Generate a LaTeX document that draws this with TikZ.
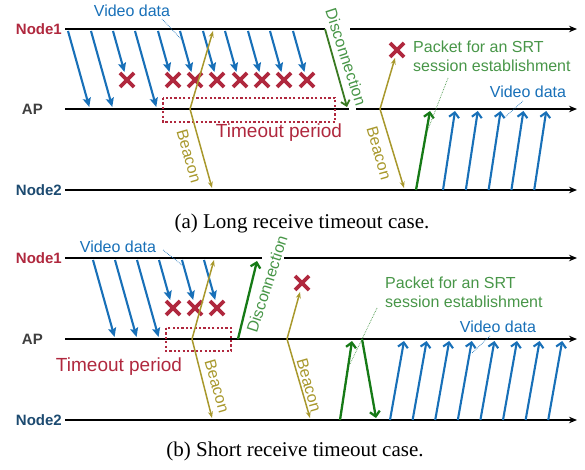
\documentclass[tikz,border=0pt]{standalone}
\usepackage{fontspec}
\setmainfont{Liberation Serif}
\newfontfamily\labfont{Liberation Sans}
\usetikzlibrary{arrows.meta}

\definecolor{vidblue}{RGB}{24,112,184}
\definecolor{lostred}{RGB}{176,40,62}
\definecolor{bcnolive}{RGB}{168,152,44}
\definecolor{discgreen}{RGB}{58,122,34}
\definecolor{srtgreen}{RGB}{22,122,22}
\definecolor{notegreen}{RGB}{72,150,72}
\definecolor{nodeblue}{RGB}{28,74,112}
\definecolor{apgray}{RGB}{62,62,62}

\tikzset{
  tl/.style={line width=1.7pt},
  tlarrow/.style={-{Stealth[length=8pt,width=6.5pt]}},
  nlab/.style={font=\labfont\bfseries\fontsize{15}{17}\selectfont, inner sep=0pt},
  vid/.style={vidblue, line width=2.1pt, -{Stealth[length=9pt,width=8pt,inset=1.5pt]}},
  vidup/.style={vidblue, line width=2.1pt, -{Straight Barb[length=5pt,width=10pt]}},
  srt/.style={srtgreen, line width=2.3pt, -{Straight Barb[length=5pt,width=10pt]}},
  disc/.style={discgreen, line width=1.8pt, -{Straight Barb[length=5pt,width=9pt]}},
  bcn/.style={bcnolive, line width=1.5pt, -{Stealth[length=6.5pt,width=5pt]}},
  labtxt/.style={font=\labfont\fontsize{16}{18}\selectfont, inner sep=0pt},
  vidtxt/.style={labtxt, vidblue},
  bcntxt/.style={labtxt, bcnolive},
  disctxt/.style={labtxt, notegreen},
  srttxt/.style={labtxt, notegreen, anchor=base west},
  tout/.style={lostred, line width=2.2pt, dash pattern=on 2.2pt off 2.2pt},
  touttxt/.style={font=\labfont\fontsize{19}{21}\selectfont, lostred, inner sep=0pt, anchor=base},
  note/.style={line width=0.7pt, densely dotted},
  capt/.style={font=\fontsize{21}{24}\selectfont, inner sep=0pt, anchor=base},
  xmark/.pic={\draw[lostred, line width=3.8pt] (-7,-7) -- (7,7) (-7,7) -- (7,-7);}
}

\begin{document}
\begin{tikzpicture}[x=1pt, y=-1pt]
\useasboundingbox (0,0) rectangle (585,470);

% (a) long receive timeout
\node[nlab, lostred, anchor=east] (n1a) at (62,29) {Node1};
\node[nlab, apgray, anchor=east] (apa) at (43,109) {AP};
\node[nlab, nodeblue, anchor=east] (n2a) at (62,190) {Node2};

\draw[tl] (65,29) -- (325,29);
\draw[tl, tlarrow] (350,29) -- (577,29);
\draw[tl] (65,109) -- (349,109);
\draw[tl, tlarrow] (356,109) -- (577,109);
\draw[tl, tlarrow] (65,190) -- (577,190);

\draw[tout] (163,98) rectangle (335,122);
\node[touttxt] (toa) at (279,138) {Timeout period};

\foreach \s/\e in {68/107, 91/107, 113/72, 135/107, 158/72, 180/72, 203/72, 225/72, 248/72, 270/72, 293/72}
  \draw[vid] (\s,31) -- ({\s+0.28*(\e-31)},\e);
\foreach \x in {127,173,195,217,240,262,284,307}
  \pic at (\x,80) {xmark};

\node[vidtxt, anchor=base] (vda) at (132,17) {Video data};
\draw[note, vidblue] (162,19) -- (182,40);

\coordinate (ba1) at (190,109);
\draw[bcn] (ba1) -- (213,31);
\draw[bcn] (ba1) -- (212,188);
\node[bcntxt, rotate=-74] (bta1) at (189,156) {Beacon};

\draw[disc] (325,29) -- (347,107);
\node[disctxt, rotate=-72] (dca) at (346,57) {Disconnection};

\coordinate (ba2) at (380,109);
\draw[bcn] (ba2) -- (395,58);
\draw[bcn] (ba2) -- (404,188);
\node[bcntxt, rotate=-74] (bta2) at (379,153) {Beacon};
\pic at (397,50) {xmark};

\node[srttxt] (pka1) at (413,53) {Packet for an SRT};
\node[srttxt] (pka2) at (413,72) {session establishment};
\draw[srt] (416,190) -- (430,111);
\draw[note, notegreen] (448,78) -- (427,132);

\foreach \i in {0,...,4}
  \draw[vidup] ({443+22.8*\i},190) -- ({455+22.8*\i},111);
\node[vidtxt, anchor=base] (vdb) at (528,98) {Video data};
\draw[note, vidblue] (523,101) -- (505,117);

\node[capt] (capa) at (302,228) {(a) Long receive timeout case.};

% (b) short receive timeout
\node[nlab, lostred, anchor=east] (n1b) at (62,258) {Node1};
\node[nlab, apgray, anchor=east] (apb) at (43,339) {AP};
\node[nlab, nodeblue, anchor=east] (n2b) at (62,420) {Node2};

\draw[tl] (65,258) -- (262,258);
\draw[tl, tlarrow] (284,258) -- (577,258);
\draw[tl, tlarrow] (65,339) -- (577,339);
\draw[tl, tlarrow] (65,420) -- (577,420);

\draw[tout] (166,328) rectangle (231,351);
\node[touttxt] (tob) at (119,371) {Timeout period};

\foreach \s/\e in {93/337, 115/337, 137/337, 159/300, 182/300, 204/300}
  \draw[vid] (\s,260) -- ({\s+0.28*(\e-260)},\e);
\foreach \x in {173,195,217}
  \pic at (\x,308) {xmark};

\node[vidtxt, anchor=base] (vdc) at (118,252) {Video data};
\draw[note, vidblue] (163,250) -- (182,265);

\coordinate (bb1) at (192,339);
\draw[bcn] (bb1) -- (214,260);
\draw[bcn] (bb1) -- (212,418);
\node[bcntxt, rotate=-74] (btb1) at (217,386) {Beacon};

\draw[srt] (238,339) -- (257,261);
\node[disctxt, rotate=72] (dcb) at (267,284) {Disconnection};

\coordinate (bb2) at (287,339);
\draw[bcn] (bb2) -- (300,292);
\draw[bcn] (bb2) -- (310,418);
\node[bcntxt, rotate=-74] (btb2) at (309,385) {Beacon};
\pic at (302,283) {xmark};

\node[srttxt] (pkb1) at (385,288) {Packet for an SRT};
\node[srttxt] (pkb2) at (385,307) {session establishment};
\draw[srt] (340,420) -- (352,341);
\draw[srt] (362,339) -- (376,418);
\draw[note, notegreen] (377,308) -- (350,364);

\foreach \i in {0,...,7}
  \draw[vidup] ({390+22.6*\i},420) -- ({404+22.6*\i},341);
\node[vidtxt, anchor=base] (vdd) at (498,332) {Video data};
\draw[note, vidblue] (490,336) -- (472,353);

\node[capt] (capb) at (295,456) {(b) Short receive timeout case.};

\end{tikzpicture}
\end{document}
